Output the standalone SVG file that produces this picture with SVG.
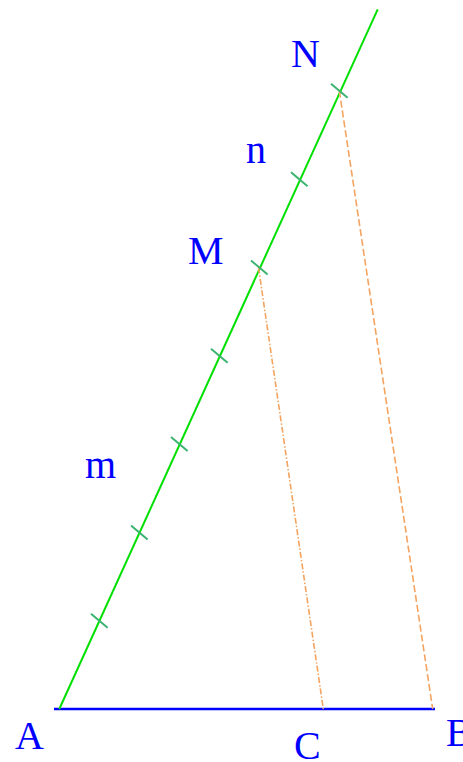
<svg xmlns="http://www.w3.org/2000/svg" width="463" height="762" viewBox="0 0 463 762">
<style>
.lbl{font-family:"Liberation Serif","Times New Roman",serif;font-size:40px;fill:#0000ff}
.tick{stroke:#3cb371;stroke-width:2;fill:none}
.par{stroke:#f4a460;stroke-width:1.6;fill:none}
</style>
<rect width="463" height="762" fill="#ffffff"/>
<g id="connectors">
<line id="AB" x1="54" y1="709" x2="435" y2="709" stroke="#0000ff" stroke-width="2.5"/>
<line id="AN" x1="59.3" y1="709" x2="377.7" y2="9.3" stroke="#00e000" stroke-width="2"/>
<line id="MC" class="par" x1="258.5" y1="267.5" x2="323.3" y2="709" stroke-dasharray="6,2,1.5,2"/>
<line id="NB" class="par" x1="339.3" y1="90.7" x2="432.7" y2="709" stroke-dasharray="7,3"/>
</g>
<g id="ticks">
<line class="tick" x1="91" y1="613.7" x2="107.6" y2="627.7"/>
<line class="tick" x1="131" y1="525.4" x2="147.6" y2="539.4"/>
<line class="tick" x1="171" y1="437.1" x2="187.6" y2="451.1"/>
<line class="tick" x1="211" y1="348.8" x2="227.6" y2="362.8"/>
<line class="tick" x1="251" y1="260.5" x2="267.6" y2="274.5"/>
<line class="tick" x1="291" y1="172.2" x2="307.6" y2="186.2"/>
<line class="tick" x1="331" y1="83.7" x2="347.6" y2="97.7"/>
</g>
<g id="N"><text class="lbl" x="291" y="66.5">N</text></g>
<g id="n"><text class="lbl" x="246" y="162.5">n</text></g>
<g id="M"><text class="lbl" x="188" y="264">M</text></g>
<g id="m"><text class="lbl" x="85" y="478">m</text></g>
<g id="A"><text class="lbl" x="15" y="749">A</text></g>
<g id="C"><text class="lbl" x="294" y="759">C</text></g>
<g id="B"><text class="lbl" x="446" y="745.5">B</text></g>
</svg>
